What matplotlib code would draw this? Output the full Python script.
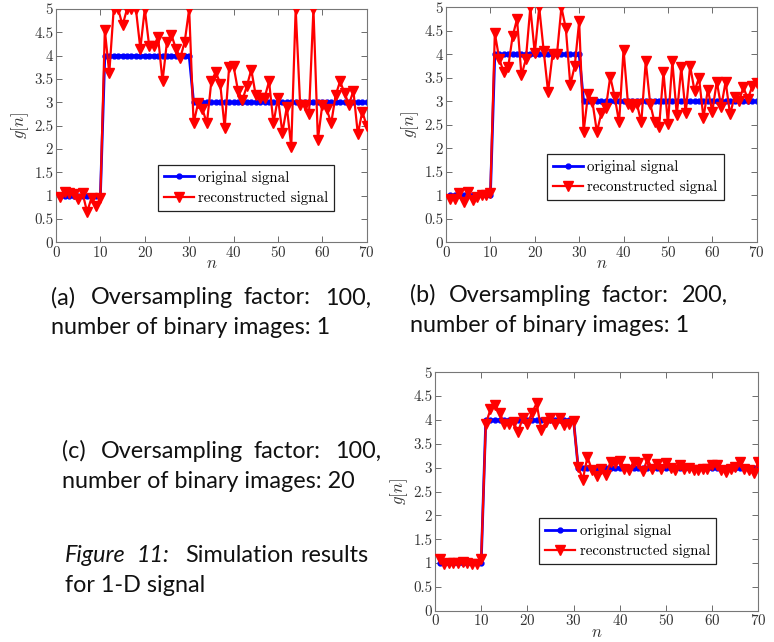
import matplotlib.pyplot as plt
from matplotlib.ticker import MultipleLocator, FuncFormatter

# --- Data ---
n = list(range(1, 71))

original = [1, 1, 1, 1, 1, 1, 1, 1, 1, 1,
            4, 4, 4, 4, 4, 4, 4, 4, 4, 4, 4, 4, 4, 4, 4, 4, 4, 4, 4, 4,
            3, 3, 3, 3, 3, 3, 3, 3, 3, 3, 3, 3, 3, 3, 3, 3, 3, 3, 3, 3,
            3, 3, 3, 3, 3, 3, 3, 3, 3, 3, 3, 3, 3, 3, 3, 3, 3, 3, 3, 3]

# (a) oversampling 100, 1 binary image
recon_a = [0.97, 1.08, 1.05, 1.03, 0.93, 1.05, 0.65, 0.95, 0.78, 0.95,
           4.55, 3.62, 5.0, 5.0, 4.65, 5.0, 5.0, 5.0, 4.15, 5.0,
           4.2, 4.2, 4.4, 3.45, 4.3, 4.45, 4.15, 3.95, 4.3, 5.0,
           2.55, 2.98, 2.85, 2.55, 3.45, 3.65, 3.4, 2.45, 3.75, 3.78,
           3.25, 3.05, 3.35, 3.7, 3.15, 3.1, 3.1, 3.45, 2.55, 3.1,
           2.35, 2.9, 2.05, 5.0, 2.95, 2.95, 2.75, 5.0, 2.2, 2.95,
           2.85, 2.55, 3.15, 3.45, 3.2, 2.95, 3.25, 2.32, 2.8, 2.5]

# (b) oversampling 200, 1 binary image
recon_b = [0.93, 0.93, 1.05, 0.85, 1.08, 0.9, 0.97, 1.0, 1.0, 1.05,
           4.45, 3.9, 3.62, 3.72, 4.38, 4.75, 3.55, 3.9, 5.0, 4.02,
           5.0, 4.08, 3.2, 4.0, 4.0, 5.0, 4.55, 3.35, 3.75, 4.7,
           2.35, 3.15, 2.98, 2.35, 2.75, 2.85, 3.52, 3.1, 2.55, 4.1,
           2.95, 2.88, 2.95, 2.55, 3.85, 2.95, 2.55, 2.45, 3.62, 2.52,
           3.85, 2.7, 3.72, 2.75, 3.75, 3.22, 3.5, 2.65, 3.25, 2.78,
           3.42, 2.88, 3.42, 2.72, 3.1, 3.0, 3.3, 3.05, 3.32, 3.38]

# (c) oversampling 100, 20 binary images
recon_c = [1.08, 0.98, 1.0, 1.0, 1.0, 1.03, 1.0, 0.98, 0.98, 1.08,
           3.92, 4.22, 4.32, 4.15, 3.92, 3.92, 3.95, 3.75, 4.05, 3.92,
           4.15, 4.35, 3.8, 3.95, 4.05, 3.92, 4.05, 3.9, 3.92, 3.97,
           3.02, 2.75, 3.22, 2.95, 2.82, 2.98, 2.85, 3.12, 3.1, 3.15,
           2.98, 2.95, 3.12, 3.1, 2.92, 3.18, 2.98, 3.08, 2.98, 3.1,
           3.0, 2.95, 3.05, 2.98, 3.0, 2.95, 2.95, 2.98, 2.98, 3.05,
           3.05, 2.95, 2.9, 2.98, 3.02, 3.12, 2.98, 2.95, 2.88, 3.12]

# --- Style ---
plt.rcParams['font.family'] = 'cmr10'
plt.rcParams['mathtext.fontset'] = 'cm'
plt.rcParams['axes.formatter.use_mathtext'] = True

W, H = 774, 642
fig = plt.figure(figsize=(W / 100, H / 100), dpi=100)


def px_axes(left, top, right, bottom):
    return fig.add_axes([left / W, 1 - bottom / H, (right - left) / W, (bottom - top) / H])


def draw_panel(ax, recon, legend_box):
    ax.plot(n, original, color='blue', lw=2, marker='.', ms=7, zorder=2,
            label='original signal')
    ax.plot(n, recon, color='red', lw=1.6, marker='v', ms=7, zorder=3,
            label='reconstructed signal')
    ax.set_xlim(0, 70)
    ax.set_ylim(0, 5)
    ax.xaxis.set_major_locator(MultipleLocator(10))
    ax.yaxis.set_major_locator(MultipleLocator(0.5))
    ax.yaxis.set_major_formatter(FuncFormatter(lambda v, p: '%g' % v))
    ax.tick_params(direction='in', top=True, right=True, length=4,
                   width=0.6, color='#555555', labelcolor='#333333',
                   labelsize=10.8, pad=2)
    for s in ax.spines.values():
        s.set_color('#777777')
        s.set_linewidth(0.8)
    ax.set_xlabel('$n$', fontsize=12, labelpad=-3, color='#333333')
    ax.set_ylabel('$g[n]$', fontsize=12, labelpad=2, color='#333333')
    leg = ax.legend(loc='lower left', bbox_to_anchor=legend_box, fancybox=False,
                    framealpha=1, edgecolor='#222222', fontsize=10.8,
                    handlelength=2.0, handletextpad=0.3, borderpad=0.4,
                    labelspacing=0.4, borderaxespad=0)
    leg.get_frame().set_linewidth(0.9)


ax_a = px_axes(56, 9, 366.7, 242.3)
draw_panel(ax_a, recon_a, (0.327, 0.135))

ax_b = px_axes(446, 7.3, 756.7, 242.3)
draw_panel(ax_b, recon_b, (0.325, 0.18))

ax_c = px_axes(435, 372.3, 758.3, 610.7)
draw_panel(ax_c, recon_c, (0.322, 0.196))

# --- Captions (justified lines are placed word by word) ---
cap = dict(family='Lato', fontsize=16.8, color='#111111', va='center')


def ftext(x, y, s, **kw):
    fig.text(x / W, 1 - y / H, s, **{**cap, **kw})


def words(y, items, **kw):
    for x, s in items:
        ftext(x, y, s, **kw)


words(298, [(50.7, '(a)'), (90.7, 'Oversampling'), (243.3, 'factor:'), (325, '100,')])
ftext(50.7, 328, 'number of binary images: 1')

words(295, [(410, '(b)'), (449.3, 'Oversampling'), (601.7, 'factor:'), (681.7, '200,')])
ftext(410, 325, 'number of binary images: 1')

words(451, [(61.7, '(c)'), (101, 'Oversampling'), (254, 'factor:'), (335, '100,')])
ftext(61.7, 481, 'number of binary images: 20')

words(555, [(65, 'Figure'), (136.7, '11:')], style='italic')
words(555, [(185, 'Simulation'), (300, 'results')])
ftext(65, 585, 'for 1-D signal')

fig.savefig('out.png', dpi=100)
